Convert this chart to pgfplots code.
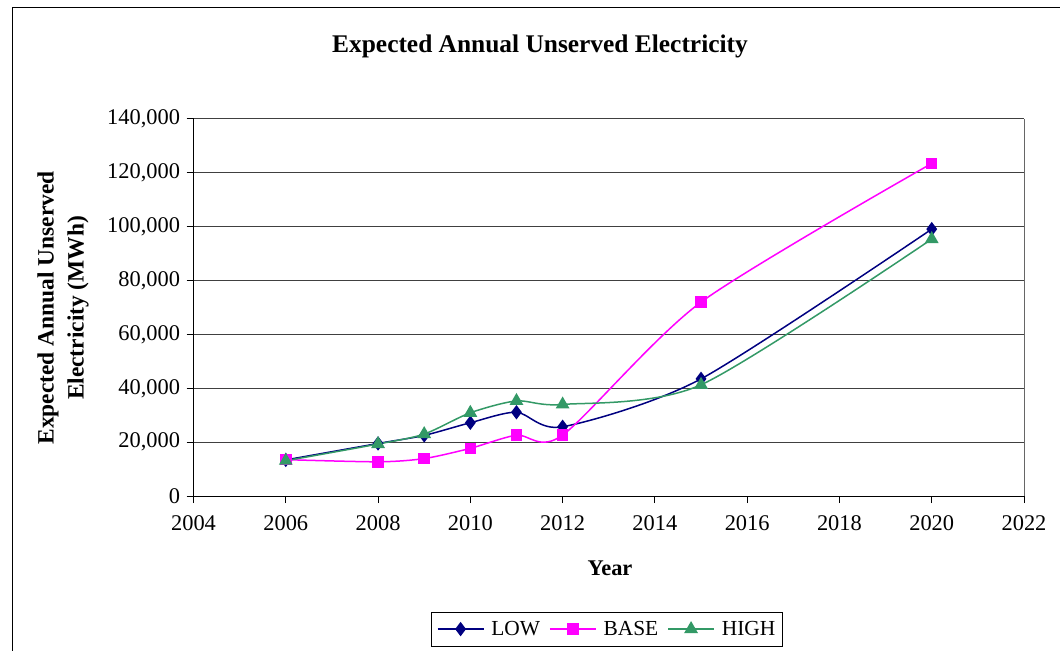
\documentclass[border=0pt]{standalone}
\usepackage{pgfplots}
\pgfplotsset{compat=1.18}
\usepackage{fontspec}
\setmainfont{Liberation Serif}

\definecolor{lowc}{RGB}{0,0,128}
\definecolor{basec}{RGB}{255,0,255}
\definecolor{highc}{RGB}{51,153,102}

\begin{document}
\begin{tikzpicture}
\useasboundingbox (0bp,0bp) rectangle (1060bp,651bp);
% chart frame (cut off at right and bottom)
\draw[black,line width=1bp] (12bp,0bp) -- (12bp,643bp) -- (1060bp,643bp);

\node[font=\fontsize{25.5}{30}\selectfont\bfseries] at (540bp,605bp) {Expected Annual Unserved Electricity};
\node[font=\fontsize{23.5}{30}\selectfont\bfseries,rotate=90,align=center] at (63bp,343bp)
  {Expected Annual Unserved\\Electricity (MWh)};
\node[font=\fontsize{22.5}{26}\selectfont\bfseries] at (610bp,83bp) {Year};

\begin{axis}[
  at={(193.5bp,155bp)}, anchor=south west,
  scale only axis, width=830.5bp, height=377bp,
  xmin=2004, xmax=2022, ymin=0, ymax=140000,
  xtick={2004,2006,2008,2010,2012,2014,2016,2018,2020,2022},
  xticklabels={2004,2006,2008,2010,2012,2014,2016,2018,2020,2022},
  ytick={0,20000,40000,60000,80000,100000,120000,140000},
  yticklabels={0,{20,000},{40,000},{60,000},{80,000},{100,000},{120,000},{140,000}},
  scaled y ticks=false,
  tick label style={font=\fontsize{22.5}{26}\selectfont},
  xticklabel style={yshift=-9bp},
  yticklabel style={xshift=-3bp},
  axis x line*=bottom, axis y line*=left,
  axis line style={black,line width=1bp,-},
  tick align=outside, major tick length=7bp,
  tick style={black,line width=1bp},
  ymajorgrids, grid style={black!75,line width=1bp},
  clip=false,
  legend columns=3,
  legend style={at={(0.498,-0.353)},anchor=center,draw=black,line width=0.8bp,
    font=\fontsize{21.5}{24}\selectfont,inner xsep=5bp,inner ysep=7bp,
    /tikz/every odd column/.append style={column sep=5bp},
    /tikz/every even column/.append style={column sep=7bp}},
  legend image code/.code={\draw[mark repeat=2,mark phase=2] plot coordinates {(0bp,0bp) (23bp,0bp) (46bp,0bp)};},
]
\draw[black!60,line width=1bp] (rel axis cs:1,0) -- (rel axis cs:1,1);
\addplot[lowc,line width=1.5bp,smooth,tension=0.45,mark=diamond*,mark size=6bp,mark options={fill=lowc,solid}]
  coordinates {(2006,13400) (2008,19500) (2009,22500) (2010,27200) (2011,31100) (2012,25700) (2015,43500) (2020,99100)};
\addlegendentry{LOW}
\addplot[basec,line width=1.5bp,smooth,tension=0.45,mark=square*,mark size=5bp,mark options={fill=basec,solid}]
  coordinates {(2006,13500) (2008,12700) (2009,13900) (2010,17700) (2011,22600) (2012,22600) (2015,72000) (2020,123500)};
\addlegendentry{BASE}
\addplot[highc,line width=1.5bp,smooth,tension=0.45,mark=triangle*,mark size=6.5bp,mark options={fill=highc,solid}]
  coordinates {(2006,13100) (2008,19300) (2009,23000) (2010,30900) (2011,35300) (2012,34000) (2015,41300) (2020,95400)};
\addlegendentry{HIGH}
\end{axis}
\end{tikzpicture}
\end{document}
